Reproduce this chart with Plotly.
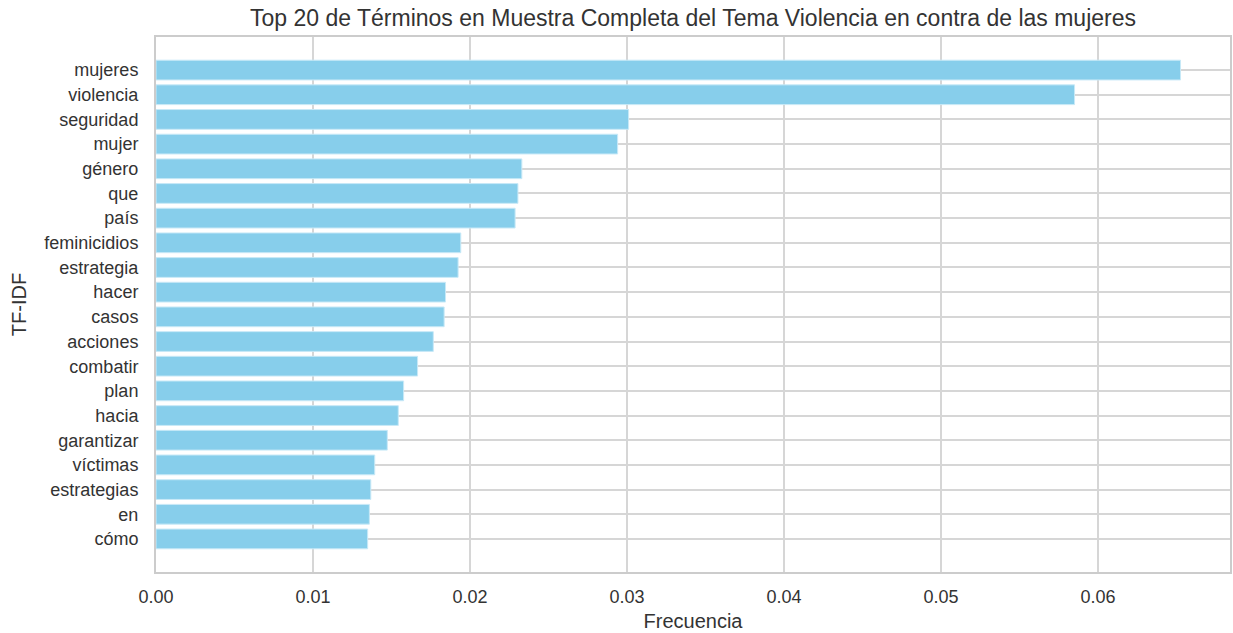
import plotly.graph_objects as go

# Terms and their TF-IDF scores (highest first)
terms = ["mujeres", "violencia", "seguridad", "mujer", "género", "que", "país",
         "feminicidios", "estrategia", "hacer", "casos", "acciones", "combatir",
         "plan", "hacia", "garantizar", "víctimas", "estrategias", "en", "cómo"]
scores = [0.06525, 0.0585, 0.0301, 0.0294, 0.0233, 0.02305, 0.02287,
          0.01941, 0.01924, 0.01844, 0.01835, 0.01766, 0.01666,
          0.01577, 0.01543, 0.01473, 0.01393, 0.01368, 0.01359, 0.01348]
x_ticks = [0.00, 0.01, 0.02, 0.03, 0.04, 0.05, 0.06]

font_family = "Liberation Sans, Arial, sans-serif"
grid_color = "#d6d6d6"
text_color = "#333333"

fig = go.Figure(go.Bar(
    x=scores,
    y=list(range(len(terms))),
    orientation="h",
    width=0.8,
    marker=dict(color="#87ceeb", line=dict(color="#c8e9f7", width=1)),
))

fig.update_layout(
    width=1233, height=633,
    margin=dict(l=156, r=1, t=37, b=61),
    paper_bgcolor="white", plot_bgcolor="white",
    font=dict(family=font_family, color=text_color, size=18),
    title=dict(text="Top 20 de Términos en Muestra Completa del Tema Violencia en contra de las mujeres",
               x=0.5, xref="paper", xanchor="center", y=0.972, yanchor="middle",
               font=dict(size=23, color=text_color)),
    showlegend=False,
    bargap=0.2,
)

fig.update_xaxes(
    range=[0, 0.0684],
    tickvals=x_ticks, tickformat=".2f",
    showgrid=True, gridcolor=grid_color, gridwidth=2,
    showline=True, linecolor="#cccccc", linewidth=2, mirror=True,
    zeroline=False, ticks="", ticklabelstandoff=7,
    title=dict(text="Frecuencia", font=dict(size=20, color=text_color), standoff=8),
    tickfont=dict(size=18, color=text_color),
)

fig.update_yaxes(
    range=[len(terms) - 1 + 1.34, -1.34],
    tickvals=list(range(len(terms))), ticktext=terms,
    showgrid=True, gridcolor=grid_color, gridwidth=2,
    showline=True, linecolor="#cccccc", linewidth=2, mirror=True,
    zeroline=False, ticks="", ticklabelstandoff=12,
    title=dict(text="TF-IDF", font=dict(size=20, color=text_color), standoff=12),
    tickfont=dict(size=18, color=text_color),
)

fig.write_html("out.html")
